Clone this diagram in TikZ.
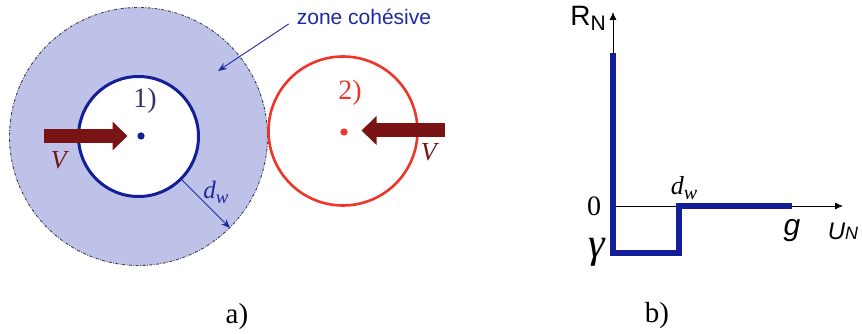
\documentclass[tikz,border=0pt]{standalone}
\usepackage{fontspec}
\setmainfont{Liberation Serif}
\setsansfont{Liberation Sans}
\usepackage{xcolor}
\usepackage{tikz}
\usetikzlibrary{arrows.meta, positioning, calc}
\definecolor{zonelilac}{RGB}{190,194,232}
\definecolor{zoneedge}{RGB}{60,60,70}
\definecolor{grainblue}{RGB}{20,30,150}
\definecolor{grainred}{RGB}{240,52,42}
\definecolor{speedred}{RGB}{122,20,20}
\definecolor{notelabel}{RGB}{30,40,160}
\definecolor{slateblue}{RGB}{50,50,110}

\begin{document}
\begin{tikzpicture}[
    x=1pt, y=1pt,
    zone/.style={fill=zonelilac, draw=zoneedge, line width=0.9pt, dash pattern=on 3pt off 1.5pt on 0.8pt off 1.5pt},
    grain/.style={line width=3pt},
    speed/.style={line width=14pt, speedred, -{Triangle[length=15pt, width=28pt]}},
    pointer/.style={-{Stealth[length=9pt, width=7pt]}, line width=0.9pt, notelabel},
    axis/.style={-{Latex[length=8pt, width=7pt]}, line width=0.8pt, black},
    law/.style={line width=6pt, grainblue, miter limit=10},
    txt/.style={inner sep=1pt, font=\fontsize{24}{28}\selectfont},
    bigtxt/.style={inner sep=1pt, font=\fontsize{28}{32}\selectfont},
    sanstxt/.style={inner sep=1pt, font=\sffamily\fontsize{24}{28}\selectfont}
]
\useasboundingbox (0,0) rectangle (862,334);

% a) cohesive zone round grain 1
\coordinate (c1) at (138.5,197.5);
\coordinate (c2) at (343,203);
\draw[zone] (c1) circle (129);
\fill[white] (c1) circle (60);
\draw[grain, grainblue] (c1) circle (60);
\fill[grainblue] (141,198) circle (3.6);
\node[bigtxt, slateblue] (one) at (145,233) {1)};

% grain 2
\draw[grain, grainred, line width=2.6pt] (c2) circle (74.5);
\fill[grainred] (344,202) circle (3.6);
\node[bigtxt, grainred] (two) at (350,241) {2)};

% Velocities
\coordinate (v1a) at (44,198);
\coordinate (v1b) at (127.5,198);
\coordinate (v2a) at (445,203.5);
\coordinate (v2b) at (361.5,203.5);
\draw[speed] (v1a) -- (v1b);
\draw[speed] (v2a) -- (v2b);
\node[txt, speedred, font=\fontsize{26}{30}\selectfont] (vone) at (60,174) {\textit{V}};
\node[txt, speedred, font=\fontsize{26}{30}\selectfont] (vtwo) at (430,182) {\textit{V}};

% Thickness d_w
\coordinate (dwin) at ($(c1)+(-45:60)$);
\coordinate (dwout) at ($(c1)+(-45:129.5)$);
\draw[pointer] (dwin) -- (dwout);
\node[txt, notelabel, font=\fontsize{25}{28}\selectfont] (dwa) at (216,142) {\textit{d}\raisebox{-5pt}{\fontsize{19}{19}\selectfont\textit{w}}};

% Zone label
\node[sanstxt, notelabel, font=\sffamily\fontsize{21}{24}\selectfont] (zonelbl) at (364,317) {zone cohésive};
\coordinate (zonetip) at (218,263);
\draw[pointer] ([shift={(-7,-7)}]zonelbl.west) -- (zonetip);

\node[bigtxt, font=\fontsize{29}{32}\selectfont] (capa) at (237,17) {a)};

% b) contact law
\coordinate (O) at (613,128);
\coordinate (ytop) at (613,322);
\coordinate (xend) at (843,128);
\draw[axis] (O) -- (ytop);
\draw[axis] (O) -- (xend);
\draw[law] (613,281) -- (613,81) -- (679,81) -- (679,128) -- (792,128);

\node[txt, font=\fontsize{28}{32}\selectfont] (zero) at (594,128) {0};
\node[txt, font=\fontsize{42}{46}\selectfont] (gam) at (597,82) {\textit{γ}};
\node[txt, font=\fontsize{26}{30}\selectfont] (dwb) at (684,146) {\textit{d}\raisebox{-5pt}{\fontsize{20}{20}\selectfont\textit{w}}};
\node[sanstxt, font=\sffamily\fontsize{30}{34}\selectfont] (glbl) at (792,103) {\textit{g}};
\node[sanstxt] (un) at (843,103) {\textit{U}{\fontsize{18}{18}\selectfont\textit{N}}};
\node[sanstxt, font=\sffamily\fontsize{28}{30}\selectfont] (rn) at (588,316) {R\raisebox{-5pt}{\fontsize{21}{21}\selectfont N}};

\node[bigtxt, font=\fontsize{29}{32}\selectfont] (capb) at (657,18) {b)};
\end{tikzpicture}
\end{document}
